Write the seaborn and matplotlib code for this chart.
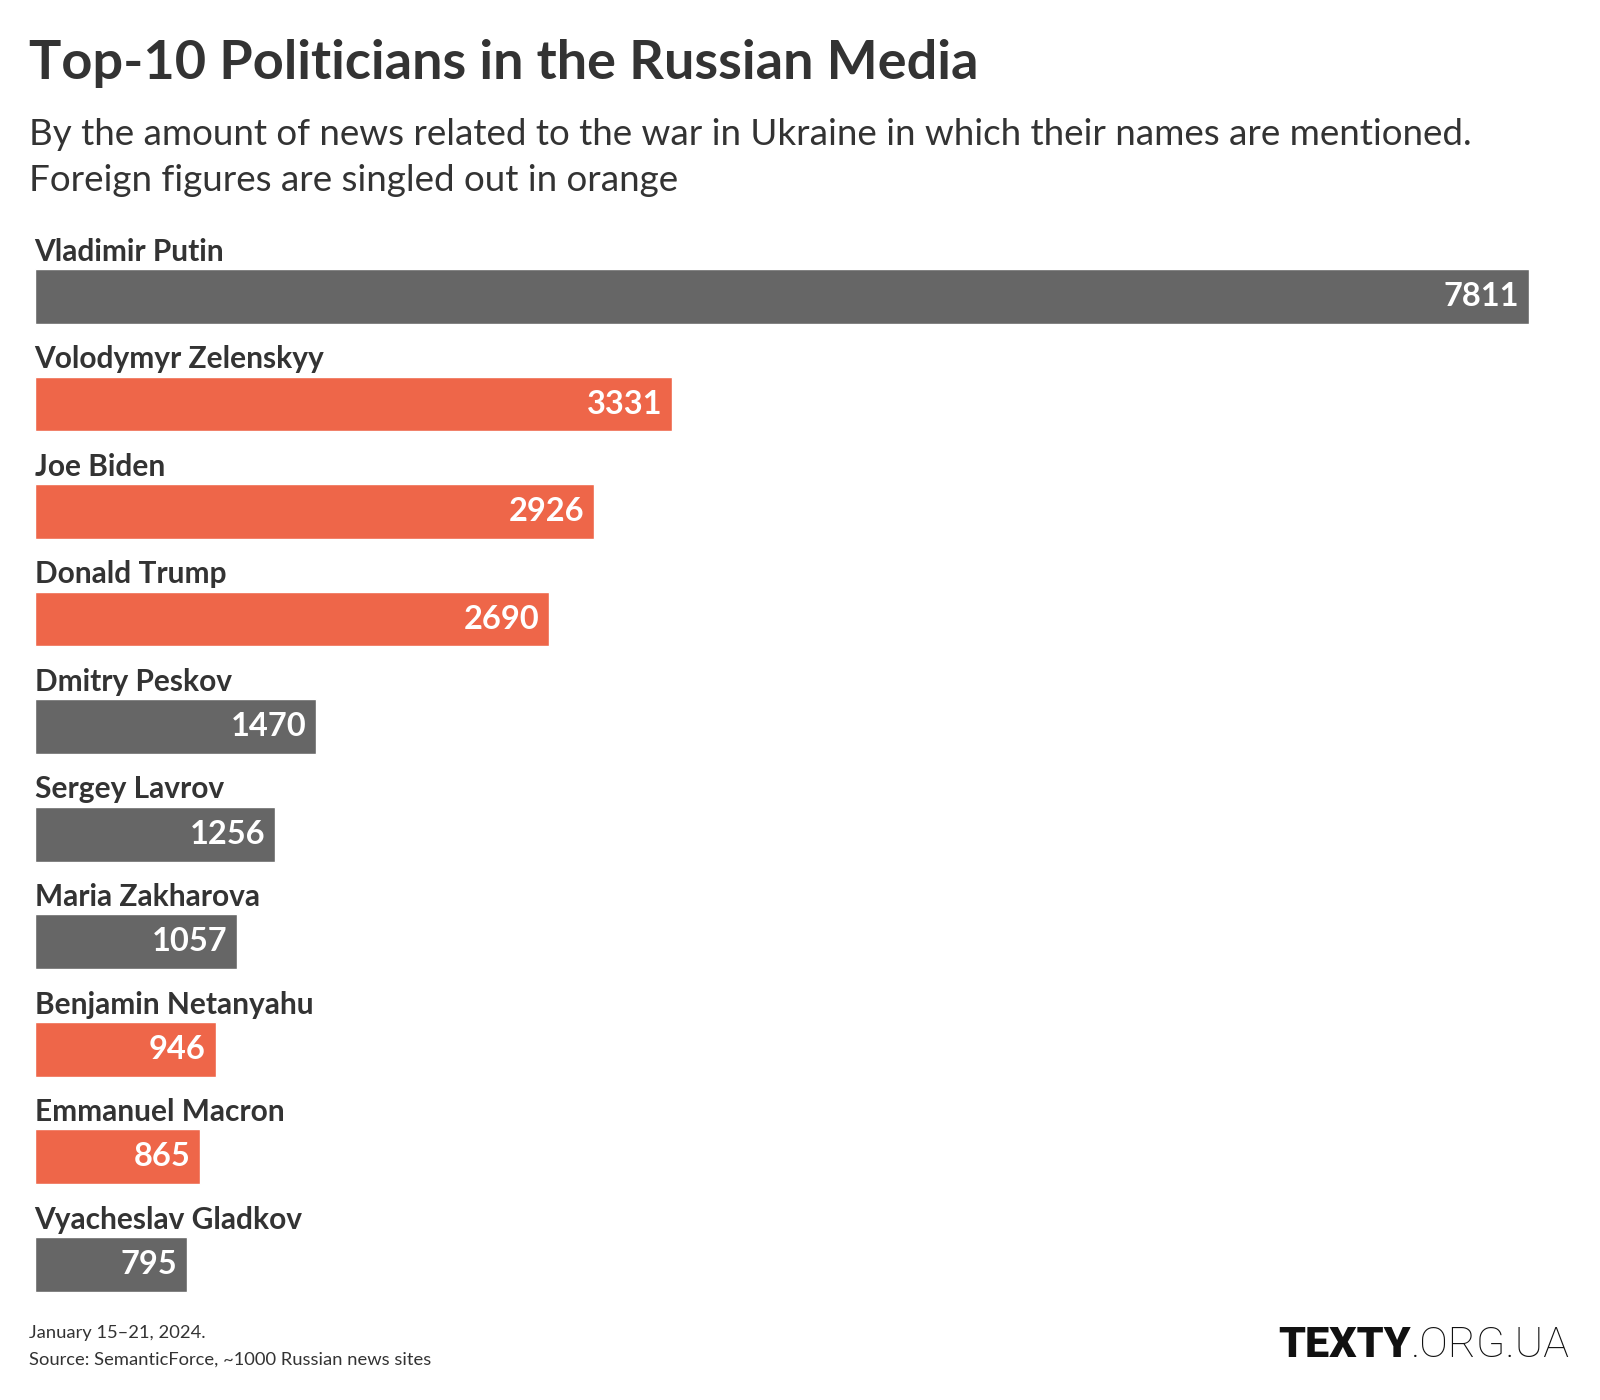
import matplotlib
matplotlib.use("Agg")
import matplotlib.pyplot as plt
import seaborn as sns
import pandas as pd

names = ["Vladimir Putin", "Volodymyr Zelenskyy", "Joe Biden", "Donald Trump",
         "Dmitry Peskov", "Sergey Lavrov", "Maria Zakharova", "Benjamin Netanyahu",
         "Emmanuel Macron", "Vyacheslav Gladkov"]
mentions = [7811, 3331, 2926, 2690, 1470, 1256, 1057, 946, 865, 795]
origin = ["Russian", "Foreign", "Foreign", "Foreign", "Russian", "Russian",
          "Russian", "Foreign", "Foreign", "Russian"]

df = pd.DataFrame({"name": names, "mentions": mentions, "origin": origin})

sns.set_theme(style="white")
plt.rcParams["font.family"] = ["Lato", "DejaVu Sans"]

text_col = "#333333"
palette = {"Russian": "#666666", "Foreign": "#ee6649"}

fig = plt.figure(figsize=(16, 14), dpi=100)
ax = fig.add_axes([0.0216, 0.0586, 0.9341, 0.768])

sns.barplot(data=df, x="mentions", y="name", hue="origin", palette=palette,
            dodge=False, width=0.51, legend=False, saturation=1, ax=ax)

ax.set_xlim(0, max(mentions))
ax.set_ylim(len(names) - 0.5, -0.5)
ax.axis("off")

for i, (n, v) in enumerate(zip(names, mentions)):
    ax.text(0.0, i - 0.415, n, ha="left", va="center", fontsize=21.5,
            fontweight="bold", color=text_col)
    ax.annotate(str(v), xy=(v, i), xytext=(-7, 0), textcoords="offset points",
                ha="right", va="center", fontsize=23.5, fontweight="bold",
                color="white")

fig.text(0.018, 0.955, "Top-10 Politicians in the Russian Media", ha="left",
         va="center", fontsize=39, fontweight="bold", color=text_col)
fig.text(0.018, 0.904,
         "By the amount of news related to the war in Ukraine in which their names are mentioned.",
         ha="left", va="center", fontsize=26.5, color=text_col)
fig.text(0.018, 0.871, "Foreign figures are singled out in orange", ha="left",
         va="center", fontsize=26.5, color=text_col)

fig.text(0.018, 0.048, "January 15\u201321, 2024.", ha="left", va="center",
         fontsize=13.2, color=text_col)
fig.text(0.018, 0.029, "Source: SemanticForce, ~1000 Russian news sites",
         ha="left", va="center", fontsize=13.2, color=text_col)

org = fig.text(0.981, 0.031, ".ORG.UA", ha="right", va="baseline", fontsize=31,
               fontweight="light", color="#111111", family="Roboto")
ax.annotate("TEXTY", xy=(0, 0), xycoords=org, ha="right", va="bottom",
            fontsize=31, fontweight="heavy", color="#111111", family="Roboto",
            annotation_clip=False)

fig.savefig("out.png", dpi=100, facecolor="white")
